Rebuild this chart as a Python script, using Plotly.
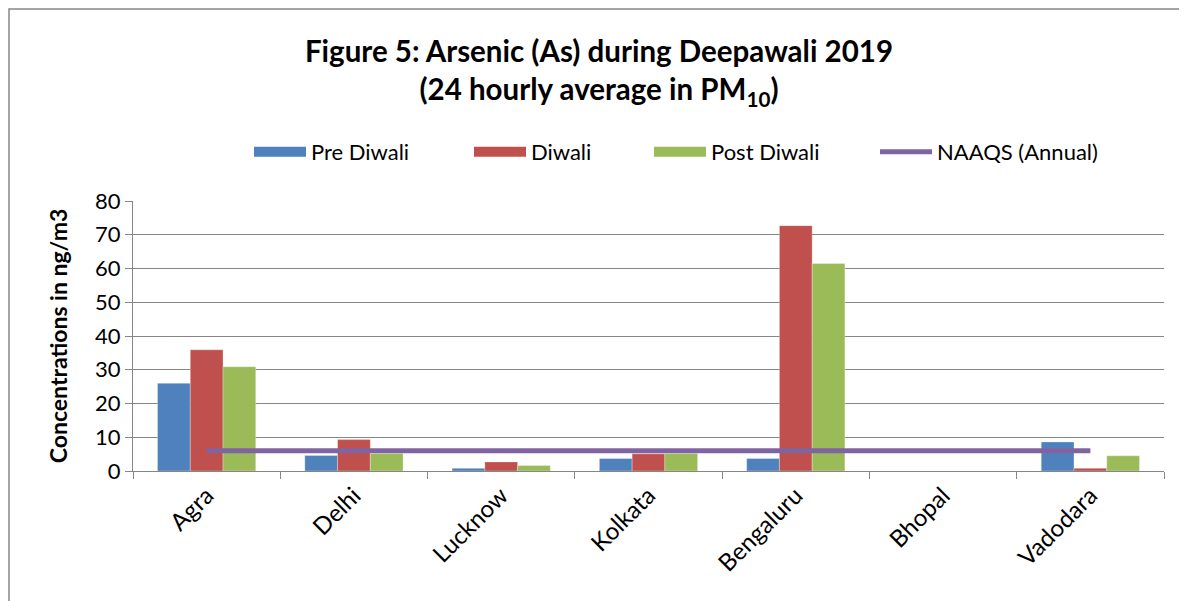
import plotly.graph_objects as go

cities = ["Agra", "Delhi", "Lucknow", "Kolkata", "Bengaluru", "Bhopal", "Vadodara"]
pre_diwali = [26.0, 4.6, 0.8, 3.7, 3.7, None, 8.6]
diwali = [35.9, 9.3, 2.7, 5.1, 72.7, None, 0.8]
post_diwali = [30.9, 5.2, 1.6, 5.2, 61.5, None, 4.5]
naaqs = [6, 6, 6, 6, 6, 6, 6]

FONT = "Lato"
# page body has an 8px margin, so the figure is a bit smaller than the window
W, H = 1179, 593
L, R, T, B = 125, 23, 193, 130
pw, ph = W - L - R, H - T - B

fig = go.Figure()
series = [
    ("Pre Diwali", pre_diwali, "#4F81BD", "legend"),
    ("Diwali", diwali, "#C0504D", "legend2"),
    ("Post Diwali", post_diwali, "#9BBB59", "legend3"),
]
for name, vals, col, leg in series:
    fig.add_trace(go.Bar(
        x=cities, y=vals, name=name, legendgroup=name, showlegend=False,
        marker=dict(color=col, line=dict(color="rgba(255,255,255,0.5)", width=0.6)),
    ))
    # wide swatch for the legend (bar icons in plotly are tiny squares)
    fig.add_trace(go.Scatter(
        x=[None], y=[None], name=name, legendgroup=name, mode="lines",
        line=dict(color=col, width=14), legend=leg,
    ))

fig.add_trace(go.Scatter(
    x=cities, y=naaqs, name="NAAQS (Annual)", mode="lines",
    line=dict(color="#8064A2", width=5), legend="legend4",
))

# chart border (partly cropped in the reference)
fig.add_shape(
    type="rect", xref="paper", yref="paper",
    x0=(1 - L) / pw, x1=(W + 10 - L) / pw,
    y0=-(B + 10) / ph, y1=1 + (T - 1) / ph,
    line=dict(color="#868686", width=1.5), fillcolor="rgba(0,0,0,0)",
    layer="below",
)

# one legend per entry so the uneven spacing of the original can be kept
legend_starts = [254, 474, 654, 880]
legends = {}
for i, s in enumerate(legend_starts):
    key = "legend" if i == 0 else f"legend{i + 1}"
    legends[key] = dict(
        orientation="h", x=(s - 5 - 8 - L) / pw, xanchor="left",
        y=1 + (T - 144) / ph, yanchor="middle",
        font=dict(family=FONT, size=22), itemwidth=52,
        bgcolor="rgba(0,0,0,0)",
    )

fig.update_layout(
    width=W, height=H,
    margin=dict(l=L, r=R, t=T, b=B, autoexpand=False),
    paper_bgcolor="white", plot_bgcolor="white",
    font=dict(family=FONT, size=20, color="black"),
    title=dict(
        text="<b>Figure 5: Arsenic (As) during Deepawali 2019<br>(24 hourly average in PM<sub>10</sub>)</b>",
        x=591 / W, xanchor="center", y=1 - 54 / H, yanchor="top",
        font=dict(family=FONT, size=29.5, color="black"),
    ),
    barmode="group", bargap=0.333, bargroupgap=0,
    showlegend=True,
    **legends,
)

fig.update_yaxes(
    range=[0, 80], dtick=10, automargin=False,
    showgrid=True, gridcolor="#868686", gridwidth=1.2,
    showline=True, linecolor="#868686", linewidth=1.2,
    ticks="outside", ticklen=7, tickcolor="#868686",
    tickfont=dict(family=FONT, size=22),
    title=dict(text="<b>Concentrations in ng/m3</b>", font=dict(family=FONT, size=23), standoff=20),
    zeroline=False,
)
fig.update_xaxes(
    type="category", tickangle=-45, automargin=False,
    showline=True, linecolor="#868686", linewidth=1.2,
    ticks="outside", tickson="boundaries", ticklen=7, tickcolor="#868686",
    tickfont=dict(family=FONT, size=24),
)

fig.write_html("out.html")
